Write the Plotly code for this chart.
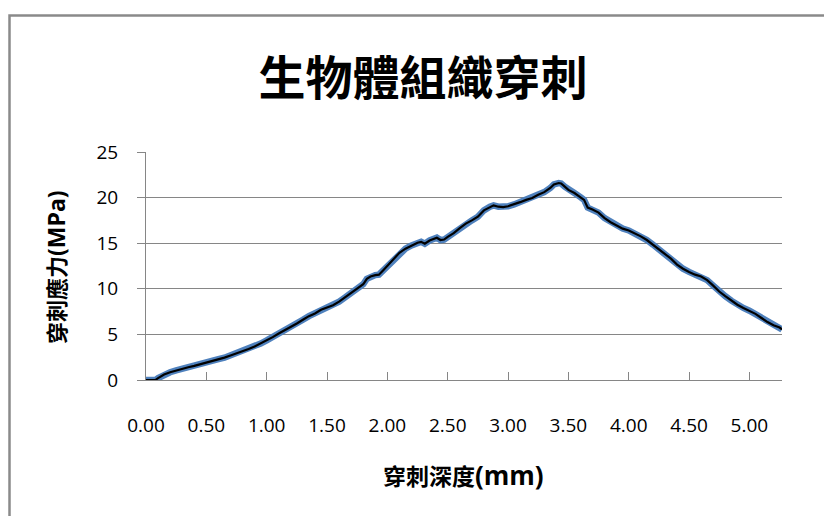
import plotly.graph_objects as go

depth = [0.00, 0.05, 0.08, 0.10, 0.15, 0.20, 0.25, 0.30, 0.35, 0.40, 0.45, 0.50, 0.55, 0.60, 0.65,
         0.70, 0.75, 0.80, 0.85, 0.90, 0.95, 1.00, 1.05, 1.10, 1.15, 1.20, 1.25, 1.30, 1.35, 1.40,
         1.45, 1.50, 1.55, 1.60, 1.65, 1.70, 1.75, 1.80, 1.83, 1.86, 1.90, 1.93, 1.97, 2.00, 2.05,
         2.10, 2.15, 2.20, 2.25, 2.28, 2.31, 2.35, 2.41, 2.44, 2.47, 2.50, 2.55, 2.60, 2.65, 2.70,
         2.75, 2.80, 2.85, 2.88, 2.92, 2.96, 3.00, 3.05, 3.10, 3.15, 3.20, 3.25, 3.30, 3.35, 3.38,
         3.42, 3.44, 3.47, 3.50, 3.55, 3.60, 3.63, 3.66, 3.70, 3.75, 3.80, 3.85, 3.90, 3.95, 4.00,
         4.05, 4.10, 4.15, 4.20, 4.25, 4.30, 4.35, 4.40, 4.45, 4.50, 4.55, 4.60, 4.65, 4.70, 4.75,
         4.80, 4.85, 4.90, 4.95, 5.00, 5.05, 5.10, 5.15, 5.20, 5.25, 5.27]
stress = [0.0, 0.0, 0.02, 0.2, 0.6, 0.85, 1.05, 1.25, 1.4, 1.55, 1.72, 1.9, 2.08, 2.28, 2.45,
          2.68, 2.9, 3.15, 3.4, 3.68, 4.0, 4.35, 4.7, 5.1, 5.45, 5.85, 6.2, 6.6, 7.0, 7.3,
          7.7, 7.95, 8.2, 8.6, 9.05, 9.55, 10.0, 10.5, 11.1, 11.35, 11.5, 11.55, 12.1, 12.5, 13.2,
          13.95, 14.4, 14.75, 15.05, 15.15, 14.95, 15.3, 15.6, 15.35, 15.4, 15.7, 16.1, 16.65, 17.15, 17.5,
          17.9, 18.6, 19.0, 19.15, 19.0, 18.95, 19.05, 19.25, 19.5, 19.75, 19.95, 20.3, 20.6, 21.05, 21.45,
          21.6, 21.55, 21.2, 20.85, 20.5, 20.05, 19.75, 18.9, 18.7, 18.35, 17.75, 17.3, 16.95, 16.6, 16.4,
          16.1, 15.75, 15.35, 14.85, 14.3, 13.8, 13.3, 12.65, 12.2, 11.85, 11.55, 11.35, 10.95, 10.35, 9.7,
          9.2, 8.7, 8.25, 7.9, 7.6, 7.25, 6.8, 6.35, 6.0, 5.75, 5.55]

x_ticks = [0.0, 0.5, 1.0, 1.5, 2.0, 2.5, 3.0, 3.5, 4.0, 4.5, 5.0]
x_tick_labels = ["0.00", "0.50", "1.00", "1.50", "2.00", "2.50", "3.00", "3.50", "4.00", "4.50", "5.00"]
y_ticks = [0, 5, 10, 15, 20, 25]

title_text = "生物體組織穿刺"
x_title_cjk, x_title_unit = "穿刺深度", "(mm)"
y_title_cjk, y_title_unit = "穿刺應力", "(MPa)"

CJK = "Noto Sans CJK TC, Noto Sans CJK SC, sans-serif"
NUM = "Open Sans, Noto Sans, sans-serif"
GRID = "#868686"

fig = go.Figure()
fig.add_trace(go.Scatter(x=depth, y=stress, mode="lines",
                         line=dict(color="#4F81BD", width=6.5), hoverinfo="skip", showlegend=False))
fig.add_trace(go.Scatter(x=depth, y=stress, mode="lines",
                         line=dict(color="#000000", width=2.2), showlegend=False))

W, H = 824, 516
L, R, T, B = 146, 42, 152, 136
pw, ph = W - L - R, H - T - B

def px_x(px):
    return (px - L) / pw

def px_y(py):
    return (H - B - py) / ph

def axis_label(cjk, unit, usize):
    return ("<b>" + cjk + "</b><span style='font-family:Open Sans;font-size:%dpx'><b>" % usize
            + unit + "</b></span>")

fig.update_layout(
    width=W, height=H,
    margin=dict(l=L, r=R, t=T, b=B),
    paper_bgcolor="white", plot_bgcolor="white",
    showlegend=False,
    title=dict(text=title_text, x=423 / W, xanchor="center", y=1 - 79 / H, yanchor="middle",
               font=dict(family=CJK, size=47, color="#000000", weight="bold")),
    xaxis=dict(range=[0, 5.27], tickvals=x_ticks, ticktext=x_tick_labels,
               ticks="inside", ticklen=8, tickwidth=1, tickcolor=GRID,
               showline=True, linecolor=GRID, linewidth=1, showgrid=False, zeroline=False,
               tickfont=dict(family=NUM, size=19, color="#000000"), ticklabelstandoff=28),
    yaxis=dict(range=[0, 25], tickvals=y_ticks,
               ticks="outside", ticklen=8, tickwidth=1, tickcolor=GRID,
               showline=True, linecolor=GRID, linewidth=1, showgrid=True, gridcolor=GRID, gridwidth=1,
               zeroline=False, tickfont=dict(family=NUM, size=19, color="#000000"), ticklabelstandoff=15),
    annotations=[
        dict(text=axis_label(x_title_cjk, x_title_unit, 26), xref="paper", yref="paper",
             x=px_x(463), y=px_y(475), xanchor="center", yanchor="middle", showarrow=False,
             font=dict(family=CJK, size=23, color="#000000")),
        dict(text=axis_label(y_title_cjk, y_title_unit, 23), xref="paper", yref="paper",
             x=px_x(55), y=px_y(267), xanchor="center", yanchor="middle", showarrow=False,
             textangle=-90, font=dict(family=CJK, size=22, color="#000000")),
    ],
    shapes=[
        dict(type="rect", xref="paper", yref="paper", x0=px_x(9.5), x1=px_x(840), y0=px_y(540), y1=px_y(15.5),
             line=dict(color="#8a8a8a", width=2.5), fillcolor="rgba(0,0,0,0)", layer="below"),
    ],
)

fig.write_html("out.html")
